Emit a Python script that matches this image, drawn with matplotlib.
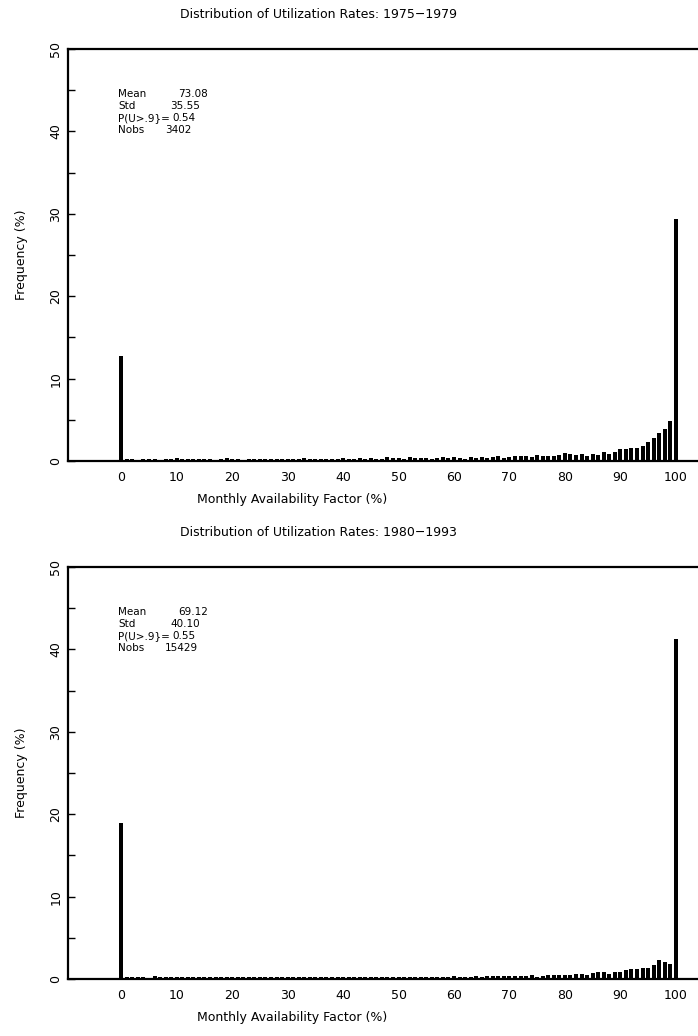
import matplotlib
matplotlib.use('Agg')
import matplotlib.pyplot as plt

# availability factor bins 0..100 (%)
bins = list(range(0, 101))

freq7579 = [12.7,
            0.2, 0.2, 0.15, 0.2, 0.2, 0.3, 0.15, 0.2, 0.25, 0.35,
            0.3, 0.3, 0.25, 0.2, 0.2, 0.2, 0.15, 0.2, 0.35, 0.2,
            0.2, 0.15, 0.2, 0.25, 0.2, 0.3, 0.2, 0.25, 0.3, 0.25,
            0.25, 0.3, 0.35, 0.25, 0.2, 0.25, 0.3, 0.25, 0.3, 0.35,
            0.25, 0.3, 0.35, 0.25, 0.4, 0.3, 0.25, 0.45, 0.35, 0.4,
            0.3, 0.45, 0.35, 0.4, 0.35, 0.3, 0.4, 0.45, 0.35, 0.5,
            0.35, 0.3, 0.45, 0.4, 0.5, 0.4, 0.45, 0.55, 0.4, 0.5,
            0.65, 0.55, 0.55, 0.5, 0.7, 0.55, 0.6, 0.55, 0.7, 0.95,
            0.85, 0.7, 0.8, 0.65, 0.85, 0.75, 1.15, 0.9, 1.05, 1.4,
            1.4, 1.55, 1.6, 1.8, 2.35, 2.75, 3.4, 3.9, 4.9, 29.4]

freq8093 = [18.9,
            0.2, 0.2, 0.2, 0.2, 0.15, 0.35, 0.2, 0.2, 0.2, 0.2,
            0.2, 0.25, 0.2, 0.2, 0.2, 0.2, 0.2, 0.2, 0.2, 0.25,
            0.2, 0.2, 0.2, 0.2, 0.2, 0.2, 0.2, 0.2, 0.25, 0.2,
            0.2, 0.2, 0.2, 0.25, 0.2, 0.25, 0.2, 0.25, 0.2, 0.25,
            0.25, 0.25, 0.25, 0.25, 0.25, 0.3, 0.25, 0.3, 0.25, 0.3,
            0.25, 0.3, 0.3, 0.25, 0.3, 0.25, 0.3, 0.3, 0.3, 0.35,
            0.3, 0.3, 0.3, 0.35, 0.3, 0.35, 0.35, 0.35, 0.35, 0.35,
            0.35, 0.35, 0.4, 0.45, 0.2, 0.4, 0.45, 0.45, 0.5, 0.5,
            0.5, 0.55, 0.55, 0.5, 0.75, 0.8, 0.85, 0.65, 0.8, 0.85,
            1.05, 1.2, 1.2, 1.35, 1.35, 1.75, 2.25, 2.05, 1.8, 41.3]

titles = ['Distribution of Utilization Rates: 1975\u22121979',
          'Distribution of Utilization Rates: 1980\u22121993']
statLabels = ['Mean', 'Std', 'P(U>.9}=', 'Nobs']
stats7579 = ['73.08', '35.55', '0.54', '3402']
stats8093 = ['69.12', '40.10', '0.55', '15429']

W, H = 698, 1036
plt.rcParams['font.family'] = ['DejaVu Sans']

fig = plt.figure(figsize=(W / 100, H / 100), dpi=100)


def fx(px):
    return px / W


def fy(py):
    return 1 - py / H


def panel(top, freq, title, stats):
    bottom = top + 412
    ax = fig.add_axes([fx(68), fy(bottom), 1 - fx(68), 412 / H])
    ax.bar(bins, freq, width=0.72, color='black')
    ax.set_xlim(-9.6, 104)
    ax.set_ylim(0, 50)
    ax.spines['right'].set_visible(False)
    for s in ['left', 'top', 'bottom']:
        ax.spines[s].set_linewidth(1.6)
    ax.set_xticks(range(0, 101, 10))
    ax.tick_params(axis='x', length=0, pad=7, labelsize=9)
    ax.set_yticks(range(0, 51, 5))
    ax.set_yticklabels([str(v) if v % 10 == 0 else '' for v in range(0, 51, 5)],
                       rotation=90, va='center')
    ax.tick_params(axis='y', direction='in', length=5, width=1, pad=4, labelsize=9)

    fig.text(fx(318), fy(top - 34), title, ha='center', va='center', fontsize=9)
    fig.text(fx(292), fy(bottom + 39), 'Monthly Availability Factor (%)',
             ha='center', va='center', fontsize=9)
    fig.text(fx(22), fy(top + 206), 'Frequency (%)', rotation=90,
             ha='center', va='center', fontsize=9)

    valueX = [178, 170, 172, 165]
    for i in range(4):
        yy = fy(top + 45 + 12 * i)
        fig.text(fx(118), yy, statLabels[i], ha='left', va='center', fontsize=7.5)
        fig.text(fx(valueX[i]), yy, stats[i], ha='left', va='center', fontsize=7.5)


panel(49, freq7579, titles[0], stats7579)
panel(567, freq8093, titles[1], stats8093)

fig.savefig('out.png', dpi=100)
